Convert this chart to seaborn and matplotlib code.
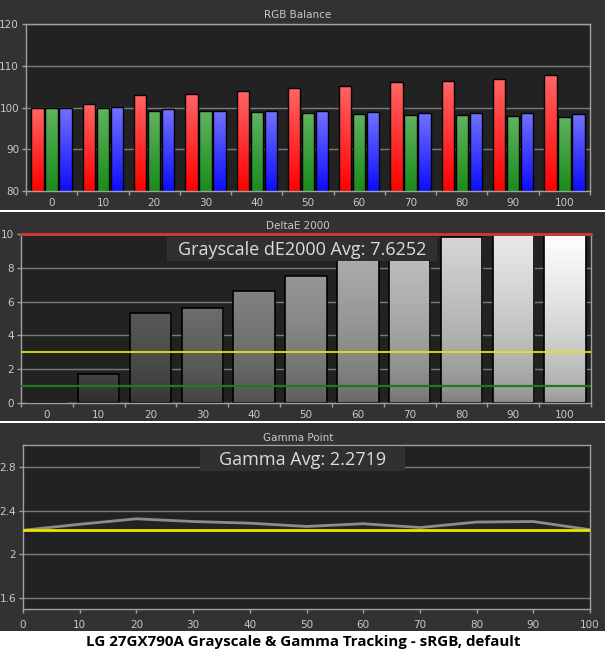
import numpy as np
import pandas as pd
import seaborn as sns
import matplotlib
matplotlib.use('Agg')
import matplotlib.pyplot as plt
from matplotlib.patches import Rectangle

levels = [0, 10, 20, 30, 40, 50, 60, 70, 80, 90, 100]
rgb_red = [100.0, 100.9, 103.0, 103.3, 104.0, 104.7, 105.2, 106.0, 106.4, 106.9, 107.8]
rgb_green = [100.0, 99.9, 99.2, 99.2, 98.9, 98.7, 98.5, 98.2, 98.2, 98.0, 97.8]
rgb_blue = [100.0, 100.1, 99.7, 99.2, 99.2, 99.2, 99.0, 98.7, 98.7, 98.7, 98.5]
delta_e = [0.0, 1.7, 5.3, 5.65, 6.6, 7.5, 8.6, 9.1, 9.8, 10.7, 11.3]
de_max, de_warn, de_good = 10, 3, 1
gamma = [2.22, 2.275, 2.325, 2.30, 2.285, 2.255, 2.28, 2.245, 2.295, 2.30, 2.225]
gamma_target = 2.22
de_avg_text = 'Grayscale dE2000 Avg: 7.6252'
gamma_avg_text = 'Gamma Avg: 2.2719'
caption = 'LG 27GX790A Grayscale & Gamma Tracking - sRGB, default'

W, H = 605, 652
BG = '#323232'
FACE = '#222222'
SPINE = '#a0a0a0'
TXT = '#c8c8c8'

sns.set_theme(style='dark')
plt.rcParams.update({
    'axes.facecolor': FACE, 'figure.facecolor': BG,
    'axes.edgecolor': SPINE, 'grid.color': '#7a7a7a', 'grid.linewidth': 1.0,
    'xtick.color': SPINE, 'ytick.color': SPINE,
    'xtick.labelcolor': TXT, 'ytick.labelcolor': TXT,
})
plt.rcParams['font.family'] = ['DejaVu Sans']


def fx(px):
    return px / W


def fy(py):
    return 1 - py / H


def make_ax(fig, left, right, top, bottom):
    return fig.add_axes([fx(left), fy(bottom), fx(right - left), (bottom - top) / H])


def style_ax(ax):
    for s in ax.spines.values():
        s.set_color(SPINE)
        s.set_linewidth(1)
        s.set_visible(True)
    ax.set_axisbelow(True)
    ax.grid(axis='y')
    ax.grid(axis='x', visible=False)
    ax.tick_params(axis='both', which='major', direction='out', length=3, width=1,
                   labelsize=7.5, pad=2, left=True, bottom=True)
    ax.set_xlabel('')
    ax.set_ylabel('')


def gradient_bar(ax, patch, top, bottom, ymin, ymax, power=1.0):
    # paint a vertical gradient inside a bar, limited to the visible y range
    h = patch.get_height()
    if h <= 0:
        return
    x0, w, y0 = patch.get_x(), patch.get_width(), patch.get_y()
    lo = max(y0, ymin)
    hi = min(y0 + h, ymax)
    t = np.linspace(0, 1, 128)[:, None] ** power
    top, bottom = np.array(top), np.array(bottom)
    img = (bottom + (top - bottom) * t)[:, None, :]
    im = ax.imshow(np.clip(img, 0, 1), extent=[x0, x0 + w, lo, hi], origin='lower',
                   aspect='auto', zorder=1.9, interpolation='bilinear')
    im.set_clip_path(patch)
    patch.set_facecolor('none')
    patch.set_zorder(2)


def cat_xaxis(ax, n):
    ax.set_xlim(-0.5, n - 0.5)
    ax.set_xticks(np.arange(n + 1) - 0.5)
    ax.set_xticklabels([])
    ax.set_xticks(np.arange(n), minor=True)
    ax.set_xticklabels([str(v) for v in levels], minor=True)
    ax.tick_params(axis='x', which='minor', length=0, labelsize=7.5, pad=5)


def info_box(ax, x0, x1, y0, y1, text, size):
    ax.add_artist(Rectangle((fx(x0), fy(y1)), fx(x1 - x0), (y1 - y0) / H,
                            transform=ax.figure.transFigure, facecolor='#303030',
                            edgecolor='none', zorder=5, clip_on=False))
    ax.text(fx((x0 + x1) / 2), fy((y0 + y1) / 2 + 1), text, transform=ax.figure.transFigure,
            ha='center', va='center', color='#dcdcdc', fontsize=size,
            family=['Open Sans', 'DejaVu Sans'], zorder=6)


fig = plt.figure(figsize=(W / 100, H / 100), dpi=100)
fig.patch.set_facecolor(BG)

# separators and caption strip
for y0, y1 in [(209.5, 211.5), (420.5, 422.5), (631, 652)]:
    fig.add_artist(Rectangle((0, fy(y1)), 1, (y1 - y0) / H, transform=fig.transFigure,
                             facecolor='white', edgecolor='none', zorder=0))

# ---- RGB Balance
ax1 = make_ax(fig, 26, 590, 24, 191)
df = pd.DataFrame({'level': levels * 3,
                   'value': rgb_red + rgb_green + rgb_blue,
                   'channel': ['R'] * 11 + ['G'] * 11 + ['B'] * 11})
sns.barplot(data=df, x='level', y='value', hue='channel', hue_order=['R', 'G', 'B'],
            palette=['#ff2020', '#1a901a', '#2020ff'], width=0.82, gap=0.12,
            edgecolor='black', linewidth=1, legend=False, ax=ax1)
grads = {'R': ((1.0, 0.40, 0.40), (1.0, 0.0, 0.0)),
         'G': ((0.38, 0.70, 0.38), (0.10, 0.55, 0.10)),
         'B': ((0.45, 0.45, 1.0), (0.05, 0.05, 1.0))}
bars = [p for p in ax1.patches if isinstance(p, Rectangle)]
for i, p in enumerate(bars):
    ch = ['R', 'G', 'B'][i // 11]
    gradient_bar(ax1, p, grads[ch][0], grads[ch][1], 80, 120)
ax1.set_ylim(80, 120)
ax1.set_yticks([80, 90, 100, 110, 120])
style_ax(ax1)
cat_xaxis(ax1, 11)
fig.text(fx(298), fy(15), 'RGB Balance', ha='center', va='center', color=TXT, fontsize=7.5)

# ---- DeltaE 2000
ax2 = make_ax(fig, 21, 591, 234, 403)
sns.barplot(x=[str(v) for v in levels], y=delta_e, color='#888888', width=0.8,
            edgecolor='black', linewidth=1.2, ax=ax2)
bars = [p for p in ax2.patches if isinstance(p, Rectangle)]
for i, p in enumerate(bars):
    base = 0.18 + 0.82 * i / 10
    top = (base,) * 3
    bot = (base * 0.58,) * 3
    gradient_bar(ax2, p, top, bot, 0, de_max, power=0.6)
ax2.set_ylim(0, de_max)
ax2.set_yticks([0, 2, 4, 6, 8, 10])
style_ax(ax2)
cat_xaxis(ax2, 11)
ax2.axhline(de_max, color='#c83838', lw=2.2, zorder=4, clip_on=False)
ax2.axhline(de_warn, color='#e6e600', lw=1.3, zorder=3)
ax2.axhline(de_good, color='#1e7a1e', lw=1.6, zorder=3)
fig.text(fx(298), fy(226), 'DeltaE 2000', ha='center', va='center', color=TXT, fontsize=7.5)
info_box(ax2, 167, 437, 237, 261, de_avg_text, 13)

# ---- Gamma Point
ax3 = make_ax(fig, 23, 590, 445, 609)
sns.lineplot(x=levels, y=gamma, color='#8c8c8c', lw=2, ax=ax3, zorder=2)
ax3.axhline(gamma_target, color='#e6e600', lw=2, zorder=3)
ax3.set_xlim(0, 100)
ax3.set_xticks(levels)
ax3.set_ylim(1.5, 3.0)
ax3.set_yticks([1.6, 2.0, 2.4, 2.8])
ax3.set_yticklabels(['1.6', '2', '2.4', '2.8'])
style_ax(ax3)
ax3.tick_params(axis='x', pad=5)
fig.text(fx(298), fy(438), 'Gamma Point', ha='center', va='center', color=TXT, fontsize=7.5)
info_box(ax3, 200, 405, 447, 471, gamma_avg_text, 13)

fig.text(fx(303), fy(642), caption, ha='center', va='center', color='black',
         fontsize=10.9, fontweight='bold', family=['Open Sans', 'DejaVu Sans'])

fig.savefig('out.png', dpi=100, facecolor=BG)
